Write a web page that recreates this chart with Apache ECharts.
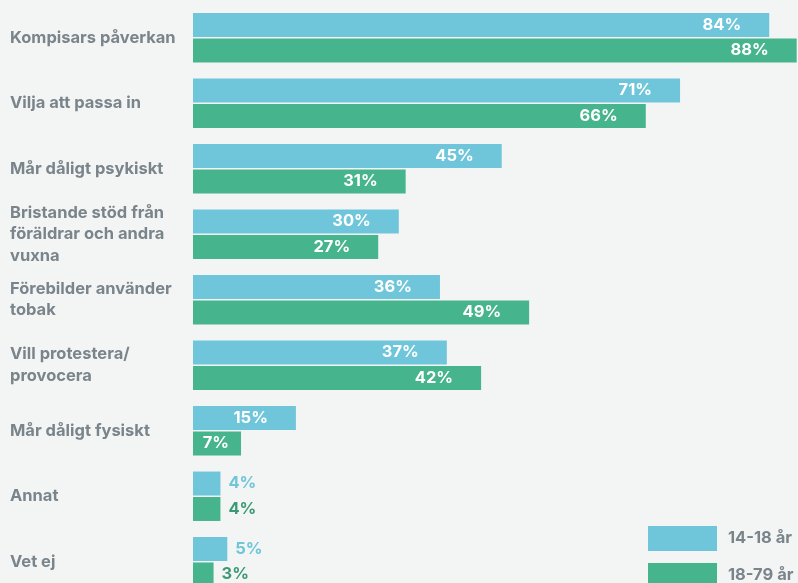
<!DOCTYPE html>
<html>
<head>
<meta charset="utf-8">
<script src="https://cdn.jsdelivr.net/npm/echarts@6/dist/echarts.min.js"></script>
<style>
  html, body { margin: 0; padding: 0; background: #f3f5f4; }
  #main { width: 798px; height: 583px; }
</style>
</head>
<body>
<div id="main"></div>
<script>
var categories = [
    'Kompisars påverkan',
    'Vilja att passa in',
    'Mår dåligt psykiskt',
    'Bristande stöd från\nföräldrar och andra\nvuxna',
    'Förebilder använder\ntobak',
    'Vill protestera/\nprovocera',
    'Mår dåligt fysiskt',
    'Annat',
    'Vet ej'
];
var youth = [84, 71, 45, 30, 36, 37, 15, 4, 5];   // 14-18 år
var adults = [88, 66, 31, 27, 49, 42, 7, 4, 3];   // 18-79 år
var seriesNames = ['14-18 år', '18-79 år'];

var blue = '#6fc6da';
var green = '#46b48c';
var greenText = '#3b9a75';
var font = 'Inter, "Open Sans", sans-serif';

// små staplar får etiketten utanför, i seriens färg
function buildData(values, textColor) {
    return values.map(function (v) {
        if (v < 6) {
            return {value: v, label: {position: 'right', distance: 8, color: textColor}};
        }
        if (v < 10) {
            return {value: v, label: {distance: 12}};
        }
        return v;
    });
}

function barLabel() {
    return {
        show: true,
        position: 'insideRight',
        distance: 28,
        formatter: '{c}%',
        color: '#fff',
        fontSize: 16.5,
        fontWeight: 'bold',
        fontFamily: font
    };
}

var chart = echarts.init(document.getElementById('main'));
chart.setOption({
    backgroundColor: '#f3f5f4',
    animation: false,
    grid: {left: 193, top: 5, width: 686, height: 589.5, outerBoundsMode: 'none'},
    legend: {
        orient: 'vertical',
        left: 648,
        top: 526,
        height: 80,
        padding: 0,
        itemWidth: 69,
        itemHeight: 25,
        itemGap: 12,
        icon: 'rect',
        textStyle: {color: '#7a848b', fontSize: 16.5, fontWeight: 'bold', fontFamily: font, padding: [0, 0, 0, 6]},
        data: seriesNames
    },
    xAxis: {
        type: 'value',
        min: 0,
        max: 100,
        show: false
    },
    yAxis: {
        type: 'category',
        inverse: true,
        data: categories,
        axisLine: {show: false},
        axisTick: {show: false},
        axisLabel: {
            align: 'left',
            margin: 183,
            color: '#7a848b',
            fontSize: 16.5,
            fontWeight: 'bold',
            fontFamily: font,
            lineHeight: 21.5
        }
    },
    series: [{
        name: seriesNames[0],
        type: 'bar',
        barWidth: 24,
        barGap: '6%',
        itemStyle: {color: blue},
        label: barLabel(),
        data: buildData(youth, blue)
    }, {
        name: seriesNames[1],
        type: 'bar',
        barWidth: 24,
        barGap: '6%',
        itemStyle: {color: green},
        label: barLabel(),
        data: buildData(adults, greenText)
    }]
});
</script>
</body>
</html>
